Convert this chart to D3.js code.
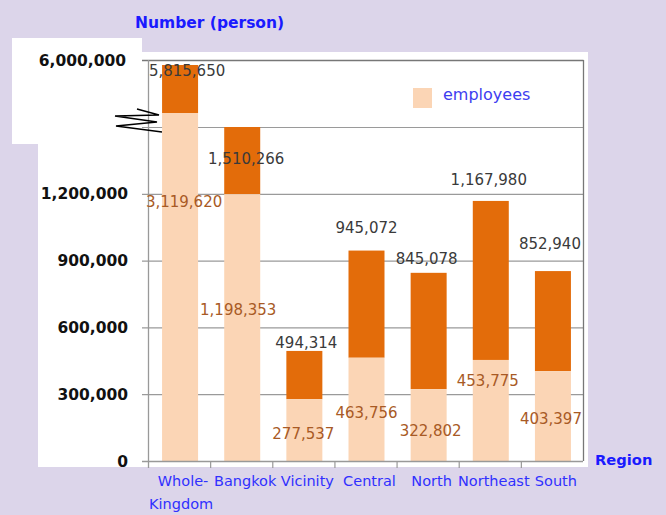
<!DOCTYPE html>
<html><head><meta charset="utf-8">
<script src="https://cdn.jsdelivr.net/npm/d3@7"></script>
<style>
html,body{margin:0;padding:0;background:#dcd5ea;}
svg{display:block;font-family:"DejaVu Sans",Verdana,sans-serif;}
</style></head>
<body>
<svg id="c" width="666" height="515"></svg>
<script>
// ---- data ----
const categories = ["Whole-Kingdom","Bangkok","Vicinity","Central","North","Northeast","South"];
const categoryLines = [["Whole-","Kingdom"],["Bangkok"],["Vicinity"],["Central"],["North"],["Northeast"],["South"]];
const totals = [5815650, 1510266, 494314, 945072, 845078, 1167980, 852940];
const employees = [3119620, 1198353, 277537, 463756, 322802, 453775, 403397];
const yTickValues = [0, 300000, 600000, 900000, 1200000, 1500000, 6000000];
const yTickLabels = ["0", "300,000", "600,000", "900,000", "1,200,000", "", "6,000,000"];
const legendLabel = "employees";
const yTitle = "Number (person)";
const xTitle = "Region";

// ---- layout (label nudges, not data) ----
const totalNudge = [[7,11],[4,37],[2,-3],[0,-18],[-2,-9],[-2,-16],[-3,-22]];
const empNudge = [[4,94],[-4,121],[-1,40],[0,60],[2,47],[-3,26],[-2,53]];

const W = 666, H = 515;
const svg = d3.select("#c");
const colTotal = "#e36c0a", colEmp = "#fbd5b5";

// white backgrounds
svg.append("rect").attr("x",12).attr("y",38).attr("width",130).attr("height",106).attr("fill","#fff");
svg.append("rect").attr("x",141).attr("y",52).attr("width",447).attr("height",92).attr("fill","#fff");
svg.append("rect").attr("x",38).attr("y",143).attr("width",550).attr("height",324).attr("fill","#fff");

const pLeft = 148, pRight = 583, pTop = 60, pBase = 461;
const x = d3.scaleBand().domain(categories).range([pLeft, pRight]).padding(0);
// broken axis: linear to 1.5M, gap, compressed upper segment
const y = d3.scaleLinear()
  .domain([0, 1500000, 2333300, 6096500])
  .range([pBase, 127, 127, pTop]);
const barW = 36;
const cx = c => x(c) + x.bandwidth()/2 + 1;

// gridlines
const g = svg.append("g");
yTickValues.filter(v => v > 0 && v < 6000000).forEach(v => {
  g.append("line").attr("x1",pLeft-6).attr("x2",pRight).attr("y1",y(v)+0.5).attr("y2",y(v)+0.5)
    .attr("stroke","#9a9a9a").attr("stroke-width",1.2);
});
// top & right border
g.append("line").attr("x1",pLeft-6).attr("x2",pRight+0.5).attr("y1",pTop+0.5).attr("y2",pTop+0.5).attr("stroke","#777").attr("stroke-width",1.3);
g.append("line").attr("x1",pRight+0.5).attr("x2",pRight+0.5).attr("y1",pTop).attr("y2",pBase).attr("stroke","#777").attr("stroke-width",1.3);

// bars
const bars = svg.append("g");
categories.forEach((c,i) => {
  bars.append("rect").attr("x",cx(c)-barW/2).attr("width",barW)
    .attr("y",y(totals[i])).attr("height",y(employees[i])-y(totals[i])).attr("fill",colTotal);
  bars.append("rect").attr("x",cx(c)-barW/2).attr("width",barW)
    .attr("y",y(employees[i])).attr("height",pBase-y(employees[i])).attr("fill",colEmp);
});

// axes
const ax = svg.append("g");
ax.append("line").attr("x1",pLeft+0.5).attr("x2",pLeft+0.5).attr("y1",pTop).attr("y2",pBase+7).attr("stroke","#999").attr("stroke-width",1.3);
ax.append("line").attr("x1",pLeft-6).attr("x2",pRight).attr("y1",pBase+0.5).attr("y2",pBase+0.5).attr("stroke","#999").attr("stroke-width",1.3);
categories.slice(1).forEach(c => {
  ax.append("line").attr("x1",x(c)+0.5).attr("x2",x(c)+0.5).attr("y1",pBase).attr("y2",pBase+7).attr("stroke","#999").attr("stroke-width",1.2);
});

// y tick labels
svg.append("defs").append("clipPath").attr("id","wclip").append("rect").attr("x",0).attr("y",0).attr("width",W).attr("height",467);
const yl = svg.append("g").attr("clip-path","url(#wclip)");
yTickValues.forEach((v,i) => {
  if (!yTickLabels[i]) return;
  const yy = v === 6000000 ? pTop : y(v);
  yl.append("text").attr("x", v === 6000000 ? 126 : 128).attr("y", yy).attr("dy","0.36em")
    .attr("text-anchor","end").attr("font-size","15.5px").attr("font-weight","bold").attr("fill","#111")
    .text(yTickLabels[i]);
});

// break marker
const by = y(1500000);
const brk = [[pLeft-11,by-18],[pLeft+11,by-12],[pLeft-33,by-11],[pLeft+9,by-5],[pLeft-32,by-1],[pLeft+14,by+5]];
svg.append("path").attr("d", d3.line()(brk)).attr("fill","none").attr("stroke","#000").attr("stroke-width",1.4);

// data labels
const fmt = d3.format(",");
categories.forEach((c,i) => {
  svg.append("text").attr("x",cx(c)+totalNudge[i][0]).attr("y",y(totals[i])+totalNudge[i][1])
    .attr("text-anchor","middle").attr("font-size","15px").attr("fill","#3a3a3a").text(fmt(totals[i]));
  svg.append("text").attr("x",cx(c)+empNudge[i][0]).attr("y",y(employees[i])+empNudge[i][1])
    .attr("text-anchor","middle").attr("font-size","15px").attr("fill","#a85a25").text(fmt(employees[i]));
});

// category labels
categories.forEach((c,i) => {
  categoryLines[i].forEach((ln,j) => {
    svg.append("text").attr("x",cx(c)+3 - (j>0?2:0)).attr("y",486 + j*23)
      .attr("text-anchor","middle").attr("font-size","14.5px").attr("fill","#3030ff").text(ln);
  });
});

// titles
svg.append("text").attr("x",135).attr("y",28).attr("font-size","15.5px").attr("font-weight","bold").attr("fill","#1a1aff").text(yTitle);
svg.append("text").attr("x",595).attr("y",465).attr("font-size","14.7px").attr("font-weight","bold").attr("fill","#1a1aff").text(xTitle);

// legend
svg.append("rect").attr("x",413).attr("y",88).attr("width",19).attr("height",20).attr("fill",colEmp);
svg.append("text").attr("x",443).attr("y",100).attr("font-size","16px").attr("fill","#3d3df0").text(legendLabel);
</script>
</body></html>
